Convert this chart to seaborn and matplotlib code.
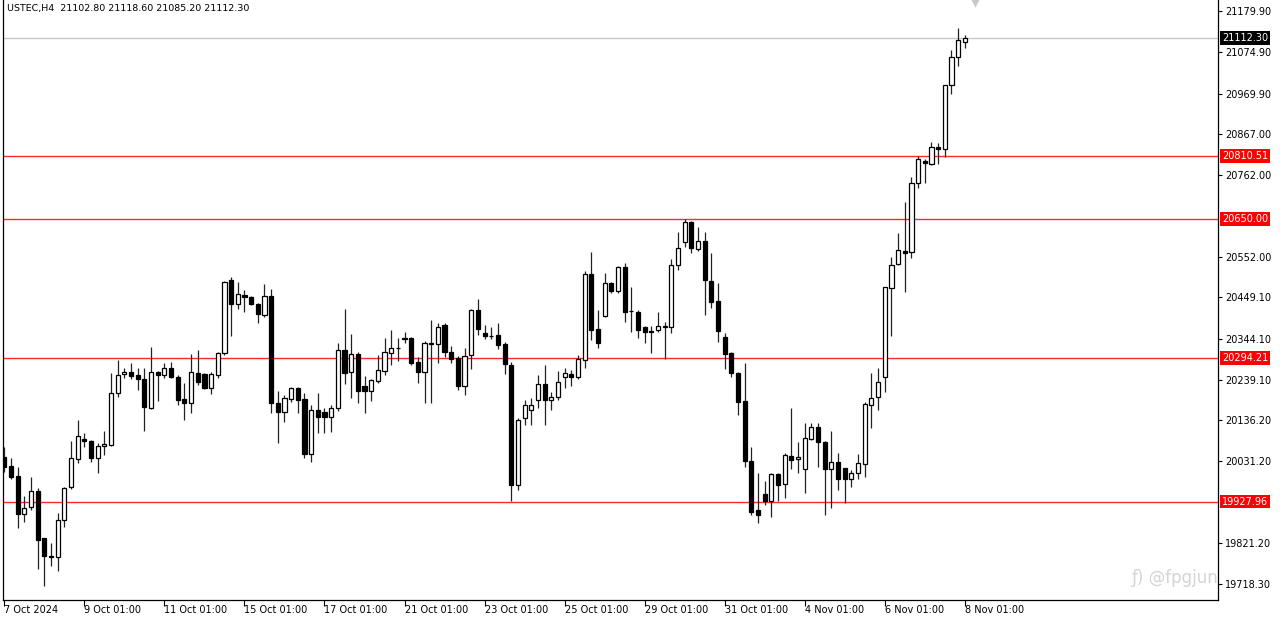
import matplotlib
matplotlib.use("Agg")
import matplotlib.pyplot as plt
import matplotlib.transforms as mtransforms
import seaborn as sns
import numpy as np
import pandas as pd

symbol_text = "USTEC,H4  21102.80 21118.60 21085.20 21112.30"

trading_days = ["2024-10-07", "2024-10-08", "2024-10-09", "2024-10-10", "2024-10-11",
                "2024-10-14", "2024-10-15", "2024-10-16", "2024-10-17", "2024-10-18",
                "2024-10-21", "2024-10-22", "2024-10-23", "2024-10-24", "2024-10-25",
                "2024-10-28", "2024-10-29", "2024-10-30", "2024-10-31", "2024-11-01",
                "2024-11-04", "2024-11-05", "2024-11-06", "2024-11-07", "2024-11-08"]
bar_hours = [1, 5, 9, 13, 17, 21]

opens = [20042, 20019, 19993, 19896, 19913, 19956, 19835, 19789, 19787, 19881,
         19964, 20036, 20088, 20082, 20038, 20069, 20072, 20206, 20254, 20259,
         20250, 20240, 20167, 20259, 20250, 20268, 20245, 20189, 20179, 20257,
         20253, 20219, 20251, 20307, 20494, 20432, 20455, 20450, 20432, 20404,
         20453, 20180, 20157, 20189, 20217, 20189, 20049, 20163, 20157, 20145,
         20166, 20315, 20260, 20304, 20223, 20211, 20237, 20262, 20308, 20319,
         20345, 20345, 20285, 20260, 20332, 20330, 20379, 20311, 20295, 20223,
         20302, 20417, 20358, 20350, 20353, 20330, 20277, 19970, 20141, 20162,
         20187, 20227, 20187, 20194, 20247, 20254, 20247, 20289, 20509, 20368,
         20402, 20485, 20466, 20528, 20415, 20413, 20374, 20363, 20366, 20374,
         20374, 20531, 20592, 20643, 20572, 20593, 20492, 20441, 20347, 20307,
         20257, 20185, 20031, 19906, 19947, 19929, 19997, 19972, 20045, 20036,
         20010, 20087, 20118, 20081, 20010, 20030, 20013, 19985, 20000, 20024,
         20174, 20194, 20245, 20473, 20534, 20567, 20566, 20742, 20797, 20790,
         20833, 20828, 20991, 21063, 21102.8]

highs = [20068, 20038, 20017, 19942, 19990, 19962, 19835, 19821, 19898, 19966,
         20082, 20136, 20102, 20085, 20077, 20109, 20257, 20289, 20268, 20283,
         20268, 20268, 20323, 20261, 20281, 20285, 20252, 20230, 20304, 20315,
         20256, 20260, 20310, 20491, 20502, 20489, 20468, 20452, 20435, 20483,
         20470, 20211, 20200, 20221, 20221, 20206, 20174, 20206, 20168, 20174,
         20332, 20419, 20356, 20311, 20249, 20242, 20302, 20345, 20366, 20345,
         20362, 20347, 20298, 20339, 20392, 20385, 20383, 20325, 20300, 20319,
         20419, 20444, 20379, 20374, 20385, 20336, 20284, 20141, 20187, 20192,
         20251, 20277, 20208, 20262, 20268, 20264, 20302, 20518, 20566, 20417,
         20511, 20489, 20530, 20538, 20475, 20416, 20376, 20376, 20413, 20387,
         20547, 20617, 20649, 20645, 20628, 20617, 20562, 20485, 20359, 20311,
         20260, 20281, 20068, 20000, 19980, 20002, 20002, 20053, 20166, 20081,
         20128, 20129, 20129, 20083, 20109, 20051, 20014, 20008, 20050, 20182,
         20257, 20268, 20475, 20553, 20615, 20694, 20758, 20810, 20802, 20847,
         20843, 20992, 21081, 21137, 21118.6]

lows = [20004, 19985, 19860, 19876, 19906, 19755, 19712, 19763, 19751, 19862,
        19960, 20027, 20068, 20030, 20002, 20047, 20070, 20194, 20243, 20240,
        20213, 20109, 20165, 20185, 20243, 20243, 20174, 20136, 20153, 20226,
        20215, 20203, 20243, 20302, 20351, 20419, 20413, 20429, 20385, 20400,
        20153, 20077, 20132, 20183, 20155, 20038, 20030, 20104, 20102, 20106,
        20160, 20228, 20192, 20179, 20153, 20185, 20230, 20251, 20277, 20288,
        20332, 20277, 20230, 20179, 20180, 20283, 20298, 20281, 20213, 20200,
        20266, 20353, 20342, 20342, 20317, 20254, 19929, 19957, 20123, 20123,
        20167, 20123, 20162, 20187, 20217, 20223, 20240, 20268, 20341, 20319,
        20399, 20460, 20460, 20387, 20362, 20345, 20332, 20307, 20362, 20291,
        20359, 20519, 20579, 20563, 20569, 20404, 20421, 20336, 20266, 20247,
        20149, 20017, 19893, 19874, 19919, 19889, 19929, 19936, 20010, 20000,
        19949, 20085, 20015, 19893, 19911, 19957, 19923, 19964, 19985, 19991,
        20115, 20163, 20208, 20351, 20532, 20464, 20549, 20728, 20742, 20788,
        20790, 20807, 20969, 21040, 21085.2]

closes = [20017, 19991, 19896, 19911, 19956, 19830, 19790, 19787, 19882, 19963,
          20038, 20095, 20082, 20038, 20070, 20076, 20206, 20251, 20259, 20249,
          20240, 20169, 20259, 20250, 20268, 20245, 20187, 20179, 20259, 20234,
          20219, 20253, 20308, 20489, 20432, 20458, 20451, 20432, 20407, 20453,
          20180, 20157, 20192, 20217, 20187, 20049, 20163, 20145, 20145, 20168,
          20315, 20257, 20304, 20211, 20211, 20238, 20264, 20311, 20321, 20321,
          20344, 20283, 20260, 20332, 20330, 20373, 20311, 20291, 20223, 20300,
          20417, 20368, 20351, 20352, 20328, 20279, 19970, 20136, 20174, 20174,
          20227, 20187, 20195, 20234, 20255, 20247, 20291, 20509, 20366, 20334,
          20487, 20466, 20528, 20413, 20414, 20366, 20362, 20362, 20376, 20376,
          20532, 20575, 20643, 20575, 20593, 20494, 20438, 20364, 20305, 20255,
          20183, 20032, 19902, 19893, 19929, 19997, 19970, 20047, 20034, 20041,
          20089, 20118, 20081, 20011, 20030, 19985, 19985, 20002, 20026, 20178,
          20192, 20234, 20475, 20532, 20570, 20562, 20742, 20802, 20793, 20833,
          20828, 20992, 21064, 21107, 21112.3]

level_prices = [20810.51, 20650.00, 20294.21, 19927.96]
last_price = 21112.30

price_ticks = [21179.90, 21074.90, 20969.90, 20867.00, 20762.00, 20552.00,
               20449.10, 20344.10, 20239.10, 20136.20, 20031.20, 19821.20,
               19718.30]

time_tick_stamps = ["2024-10-07 01:00", "2024-10-09 01:00", "2024-10-11 01:00",
                    "2024-10-15 01:00", "2024-10-17 01:00", "2024-10-21 01:00",
                    "2024-10-23 01:00", "2024-10-25 01:00", "2024-10-29 01:00",
                    "2024-10-31 01:00", "2024-11-04 01:00", "2024-11-06 01:00",
                    "2024-11-08 01:00"]
time_tick_labels = ["7 Oct 2024", "9 Oct 01:00", "11 Oct 01:00", "15 Oct 01:00",
                    "17 Oct 01:00", "21 Oct 01:00", "23 Oct 01:00", "25 Oct 01:00",
                    "29 Oct 01:00", "31 Oct 01:00", "4 Nov 01:00", "6 Nov 01:00",
                    "8 Nov 01:00"]

watermark = "ƒ) @fpgjun"

# ---------------------------------------------------------------- build
bar_times = [pd.Timestamp(d) + pd.Timedelta(hours=h) for d in trading_days for h in bar_hours]
bar_times = bar_times[:len(opens)]
df = pd.DataFrame({"time": bar_times, "open": opens, "high": highs,
                   "low": lows, "close": closes})
df["idx"] = np.arange(len(df))
df["up"] = df["close"] >= df["open"]
tick_pos = [bar_times.index(pd.Timestamp(t)) for t in time_tick_stamps]

sns.set_theme(style="white")
plt.rcParams["font.family"] = ["DejaVu Sans"]
plt.rcParams["font.size"] = 7

W, H = 1280, 617
fig = plt.figure(figsize=(W / 100, H / 100), dpi=100)
fig.patch.set_facecolor("white")
ax = fig.add_axes([3 / W, 17 / H, 1215 / W, 600 / H])
ax.set_facecolor("white")

# wicks
ax.vlines(df["idx"], df["low"], df["high"], color="#222222", linewidth=0.9, zorder=3)
# bodies
body_bottom = np.minimum(df["open"], df["close"])
body_height = (df["close"] - df["open"]).abs()
ax.bar(df["idx"], body_height, bottom=body_bottom, width=0.62,
       color=np.where(df["up"], "white", "black"), edgecolor="black",
       linewidth=0.9, zorder=4)

# horizontal levels
for p in level_prices:
    ax.axhline(p, color="#ff2a2a", linewidth=1.0, zorder=2)
ax.axhline(last_price, color="#c8c8c8", linewidth=1.0, zorder=2)

ax.set_xlim(-0.2, 181.96)
ax.set_ylim(19676.4, 21209.0)

# right price axis
ax.yaxis.tick_right()
ax.set_yticks(price_ticks)
ax.set_yticklabels([f"{v:.2f}" for v in price_ticks])
ax.tick_params(axis="y", which="both", direction="out", length=3, width=0.8,
               pad=2, labelsize=7, colors="black", right=True, left=False)

ax.set_xticks(tick_pos)
ax.set_xticklabels(time_tick_labels, ha="left")
ax.tick_params(axis="x", which="both", direction="out", length=4, width=0.8,
               pad=-0.5, labelsize=7, colors="black", bottom=True)

for s in ["left", "bottom", "right"]:
    ax.spines[s].set_visible(True)
    ax.spines[s].set_color("black")
    ax.spines[s].set_linewidth(0.9)
ax.spines["top"].set_visible(False)
ax.grid(False)

trans = mtransforms.blended_transform_factory(ax.transAxes, ax.transData)
for p in level_prices:
    ax.text(1.0033, p, f"{p:.2f}", transform=trans, ha="left", va="center",
            color="white", fontsize=7, clip_on=False, zorder=6,
            bbox=dict(boxstyle="square,pad=0.2", fc="#ff0000", ec="none"))
ax.text(1.0033, last_price, f"{last_price:.2f}", transform=trans, ha="left",
        va="center", color="white", fontsize=7, clip_on=False, zorder=6,
        bbox=dict(boxstyle="square,pad=0.2", fc="black", ec="none"))

# chart-shift marker
ax.scatter([0.8], [0.997], marker="v", s=55, color="#c8c8c8", transform=ax.transAxes,
           clip_on=False, zorder=5, linewidths=0)

fig.text(7 / W, 1 - 8 / H, symbol_text, ha="left", va="center", fontsize=6.8, color="black")
fig.text(1218 / W, 1 - 578 / H, watermark, ha="right", va="center", fontsize=12,
         color="#d4d4d4", zorder=10)

fig.savefig("out.png", dpi=100, facecolor="white")
